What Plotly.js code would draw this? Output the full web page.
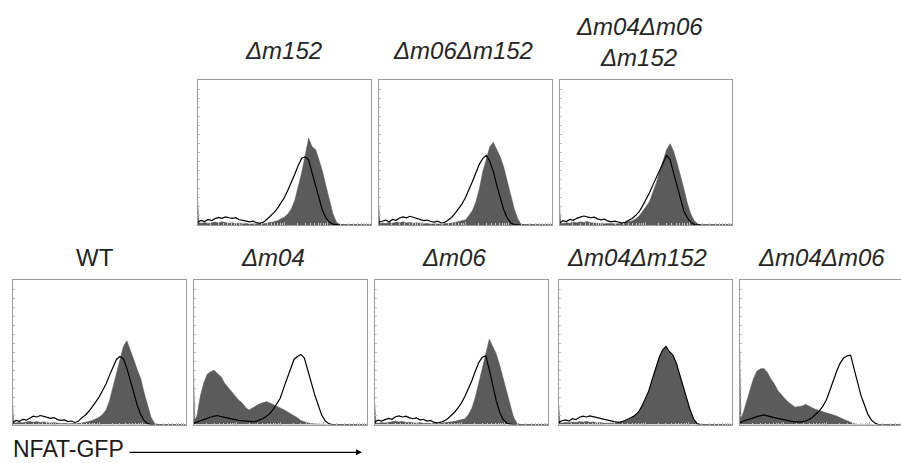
<!DOCTYPE html>
<html><head><meta charset="utf-8">
<script src="https://cdn.plot.ly/plotly-3.0.1.min.js"></script>
<style>html,body{margin:0;padding:0;background:#fff}#chart{width:901px;height:463px}</style>
</head><body><div id="chart"></div>
<script>
// Fluorescence channel (percent of log scale) shared by every histogram
const channel = [0,0.7,2,4,6,8,10,12,14,16,18,20,22,24,26,28,30,32,34,36,38,40,42,44,46,48,50,52,54,56,58,60,62,64,66,68,70,72,74,76,78,80,82,84,86,88,90,92,94,96,98,100];

// Panel titles
const titles = ['<i>Δm152</i>', '<i>Δm06Δm152</i>', '<i>Δm04Δm06</i>', '<i>Δm152</i>',
                'WT', '<i>Δm04</i>', '<i>Δm06</i>', '<i>Δm04Δm152</i>', '<i>Δm04Δm06</i>'];
const axisLabel = 'NFAT-GFP';

// Counts (% of max) – filled histogram (sample) and black outline (control)
const fill_m152 = [16,1.5, 1.2,1.8,1.0,1.6,2.0, 1.4,2.2,1.8,1.2,1.6, 1.0,1.3,0.8,1.0,0.6, 0.8,0.5,0.7,0.9,1.2, 1.6,2.2,3.0,4.0,5.5, 7.5,11,17,26,36, 48,60,54,52,45, 37,27,17,8,2, 0.4,0,0,0,0, 0,0,0,0,0];
const line_m152 = [1.5,2.5, 3.2,2.4,3.8,3.0,4.4, 5.2,4.6,5.6,5.0,4.6, 5.0,3.6,3.2,2.6,2.2, 2.6,1.6,1.2,2.0,4.0, 6.0,8.5,11.5,15,19, 24,29,35,41,46, 47,45,36,27,19, 10,5,2,0.6,0.2, 0,0,0,0,0, 0,0,0,0,0];

const fill_m06m152 = [15,1.0, 1.4,1.0,1.8,1.2,2.0, 1.6,2.2,1.4,1.9,1.2, 1.5,1.0,0.8,1.1,0.6, 0.8,0.5,0.6,0.9,1.0, 1.3,1.8,2.3,2.9,3.6, 6.5,10,16,25,37, 46,54,57,52,47, 40,30,20,11.5,4.5, 0.5,0,0,0,0, 0,0,0,0,0];
const line_m06m152 = [1.2,2.4, 2.6,3.4,2.2,3.8,3.2, 4.8,5.6,5.0,6.0,5.2, 4.4,4.0,3.0,3.4,2.4, 2.0,2.6,1.4,1.8,3.4, 5.2,8,11,14.5,19, 24,30,36,42,46, 48,44,37,27.5,19, 10.5,5,1.5,0.3,0, 0,0,0,0,0, 0,0,0,0,0];

const fill_m04m06m152 = [14,1.2, 1.0,1.6,1.2,2.0,1.6, 2.2,1.8,2.4,1.6,1.4, 1.0,1.2,0.8,1.0,0.7, 0.9,0.8,1.2,1.6,2.2, 3.0,4.2,6.0,9,12.5, 16,22,29,37,45, 52,56,51,43,34.5, 25,15,7.5,3,0.8, 0,0,0,0,0, 0,0,0,0,0];
const line_m04m06m152 = [1.4,2.2, 3.0,2.4,3.8,3.2,4.6, 5.4,6.2,5.6,5.0,5.4, 4.2,3.6,4.0,2.8,2.2, 2.6,1.8,1.4,1.8,3.0, 4.5,6.5,9,13,17, 22,27.5,33,38,43, 48,45,36,27,18, 9.5,5,1.8,0.3,0, 0,0,0,0,0, 0,0,0,0,0];

const fill_wt = [15,1.2, 1.0,1.5,1.2,1.8,2.2, 1.6,2.0,1.4,1.8,1.2, 1.0,1.4,0.8,0.6,0.9, 0.5,0.7,0.6,0.8,1.0, 1.4,2.0,2.8,3.8,5.0, 7,10,16.5,26,36, 45,54,58,52,45, 38,32,22,12.5,5, 0.8,0,0,0,0, 0,0,0,0,0];
const line_wt = [1.2,2.0, 2.8,2.2,3.6,3.0,4.2, 5.8,5.2,6.2,5.6,5.0, 4.2,4.8,3.4,2.8,3.2, 2.0,2.4,1.4,2.2,4.6, 6.4,9,12,15.5,19, 23,28,34,40,45, 47,45.5,39,30,21, 13.5,7,2.8,0.6,0, 0,0,0,0,0, 0,0,0,0,0];

const fill_m04 = [38,3, 6,20,29,35,36.5, 37.5,35,33,28.5,25.5, 22.5,19.5,17,15,12, 10,11.5,13,14.2,15, 15.8,15,14,12.8,11.5, 10.4,9,8,6.5,4.6, 2.8,1.8,1.0,0.7,0.3, 0,0,0,0,0, 0,0,0,0,0, 0,0,0,0,0];
const line_m04 = [0.8,1.2, 1.8,2.6,3.4,4.4,5.2, 5.8,6.2,5.4,5.0,4.4, 3.8,3.4,2.8,2.6,2.2, 1.8,2.0,2.2,3.0,4.2, 5.5,7.5,10.5,14,18, 25,32,39,45,47, 48.5,46,37.5,28,20.5, 13.5,6.5,2.5,0.7,0, 0,0,0,0,0, 0,0,0,0,0];

const fill_m06 = [15,1.0, 0.8,1.3,1.0,1.6,2.0, 2.4,1.8,2.2,1.4,1.6, 1.2,0.9,1.3,0.7,0.8, 0.6,0.5,0.7,0.9,1.1, 1.4,1.8,2.2,2.8,3.4, 4,7,11.5,19,29, 41,51,59,54,49, 41,32,23,13,5, 0.8,0,0,0,0, 0,0,0,0,0];
const line_m06 = [1.0,2.2, 3.0,2.4,3.4,4.2,3.6, 5.4,6.0,5.2,5.8,4.6, 4.0,4.6,3.2,3.6,2.4, 2.8,1.6,1.2,1.6,2.5, 4,6,8.5,11.5,15, 19.5,24.5,30.5,37,43, 46.5,47.5,38,26,16.5, 8.5,3.5,1,0.2,0, 0,0,0,0,0, 0,0,0,0,0];

const fill_m04m152 = [14,1.2, 1.0,1.5,1.2,1.8,1.4, 2.0,1.6,2.2,1.5,1.8, 1.1,1.4,0.9,0.8,0.6, 0.9,1.2,1.6,2.4,3.2, 4.5,6,8,12,17, 22,30,38,46,51, 53.5,50,47,42,34, 26,17.5,9.5,3.5,0.5, 0,0,0,0,0, 0,0,0,0,0];
const line_m04m152 = [1.0,2.0, 2.6,3.2,2.4,4.0,3.4, 5.0,5.8,5.2,6.0,5.4, 4.8,4.2,3.6,2.8,2.4, 2.0,1.6,1.8,2.6,3.6, 4.8,6.2,8.5,12.5,17.5, 23,31,38.5,46,51.5, 54,50.5,48,42.5,34, 26.5,18,10,3.8,0.6, 0,0,0,0,0, 0,0,0,0,0];

const fill_m04m06 = [53,4, 8,16,25,32,37, 38.5,38.8,36,31.5,28, 23.5,20.5,18,15.5,13.5, 12,12.5,12.8,14,13, 11.5,10.4,9.7,9,8, 7.4,7,5.8,4.6,3.5, 2.3,1.2,0.5,0,0, 0,0,0,0,0, 0,0,0,0,0, 0,0,0,0,0];
const line_m04m06 = [1.0,1.6, 2.4,3.0,3.6,4.6,5.4, 6.0,6.6,6.0,5.6,4.8, 4.2,3.6,3.0,2.4,2.2, 1.8,1.8,1.8,2.4,3.4, 5,7,9.5,12.7,17, 23.5,30.5,37,42.5,46, 47.5,48,38.5,29,20, 13.5,7,3,1,0, 0,0,0,0,0, 0,0,0,0,0];

// ---------- layout geometry (pixels) ----------
const W = 901, H = 463;
const panels = [
  {fill: fill_m152,       line: line_m152,       x0: 197.7, x1: 371.0, y0: 80,  y1: 225},
  {fill: fill_m06m152,    line: line_m06m152,    x0: 378.7, x1: 552.3, y0: 80,  y1: 225},
  {fill: fill_m04m06m152, line: line_m04m06m152, x0: 559.5, x1: 732.3, y0: 80,  y1: 225},
  {fill: fill_wt,         line: line_wt,         x0: 12.5,  x1: 185.7, y0: 280, y1: 424.5},
  {fill: fill_m04,        line: line_m04,        x0: 193.5, x1: 366.7, y0: 280, y1: 424.5},
  {fill: fill_m06,        line: line_m06,        x0: 374.7, x1: 548.3, y0: 280, y1: 424.5},
  {fill: fill_m04m152,    line: line_m04m152,    x0: 558.7, x1: 731.7, y0: 280, y1: 424.5},
  {fill: fill_m04m06,     line: line_m04m06,     x0: 739.7, x1: 913.0, y0: 280, y1: 424.5}
];

const traces = [];
const layout = {
  width: W, height: H, margin: {l: 0, r: 0, t: 0, b: 0},
  paper_bgcolor: '#fff', plot_bgcolor: '#fff', showlegend: false,
  annotations: [], shapes: []
};

const majorX = [0, 25, 50, 75, 100];
const minorX = [];
for (let d = 0; d < 4; d++) for (let k = 2; k < 10; k++) minorX.push(25 * (d + Math.log10(k)));

panels.forEach((p, i) => {
  const n = i + 1;
  const xa = 'x' + (n === 1 ? '' : n), ya = 'y' + (n === 1 ? '' : n);
  const cut = p.x1 > W;
  const xEnd = cut ? W : p.x1;
  const xRangeMax = 100 * (xEnd - p.x0) / (p.x1 - p.x0);
  traces.push({
    x: channel, y: p.fill, xaxis: xa, yaxis: ya, type: 'scatter', mode: 'lines',
    fill: 'tozeroy', fillcolor: '#5b5b5b', line: {color: '#5b5b5b', width: 0.5}, hoverinfo: 'skip'
  });
  traces.push({
    x: channel, y: p.line, xaxis: xa, yaxis: ya, type: 'scatter', mode: 'lines',
    line: {color: '#000', width: 1.2}, hoverinfo: 'skip'
  });
  layout['xaxis' + (n === 1 ? '' : n)] = {
    domain: [p.x0 / W, xEnd / W], range: [0, xRangeMax], anchor: ya,
    showline: true, linecolor: '#9c9c9c', linewidth: 1, mirror: true,
    ticks: 'inside', tickvals: majorX, ticklen: 3, tickcolor: '#b0b0b0', tickwidth: 1,
    minor: {ticks: 'inside', tickvals: minorX, ticklen: 2, tickcolor: '#c4c4c4', tickwidth: 1},
    showticklabels: false, showgrid: false, zeroline: false, fixedrange: true
  };
  layout['yaxis' + (n === 1 ? '' : n)] = {
    domain: [1 - p.y1 / H, 1 - p.y0 / H], range: [0, 100], anchor: xa,
    showline: true, linecolor: '#9c9c9c', linewidth: 1, mirror: !cut,
    ticks: 'inside', tick0: 0, dtick: 6.25, ticklen: 2, tickcolor: '#c0c0c0', tickwidth: 1,
    showticklabels: false, showgrid: false, zeroline: false, fixedrange: true
  };
});

// Titles
const titlePos = [[283, 50.8], [463.5, 50.8], [639, 26.5], [638, 58],
                  [95, 257.7], [272.5, 257.7], [454, 257.7], [636.7, 257.7], [821.3, 257.7]];
titles.forEach((t, i) => {
  layout.annotations.push({
    text: t, xref: 'paper', yref: 'paper', x: titlePos[i][0] / W, y: 1 - titlePos[i][1] / H,
    xanchor: 'center', yanchor: 'middle', showarrow: false,
    font: {family: 'Liberation Sans, Arial, sans-serif', size: 24, color: '#262626'}
  });
});

// Axis label with arrow
layout.annotations.push({
  text: axisLabel, xref: 'paper', yref: 'paper', x: 11 / W, y: 1 - 448.5 / H,
  xanchor: 'left', yanchor: 'middle', showarrow: false,
  font: {family: 'Liberation Sans, Arial, sans-serif', size: 23, color: '#1a1a1a'}
});
layout.annotations.push({
  text: '', xref: 'paper', yref: 'paper', x: 362 / W, y: 1 - 452.3 / H,
  showarrow: true, ax: -234, ay: 0, arrowhead: 2, arrowsize: 1, arrowwidth: 1.2, arrowcolor: '#000'
});

Plotly.newPlot('chart', traces, layout, {staticPlot: true, displayModeBar: false});
</script>
</body></html>
